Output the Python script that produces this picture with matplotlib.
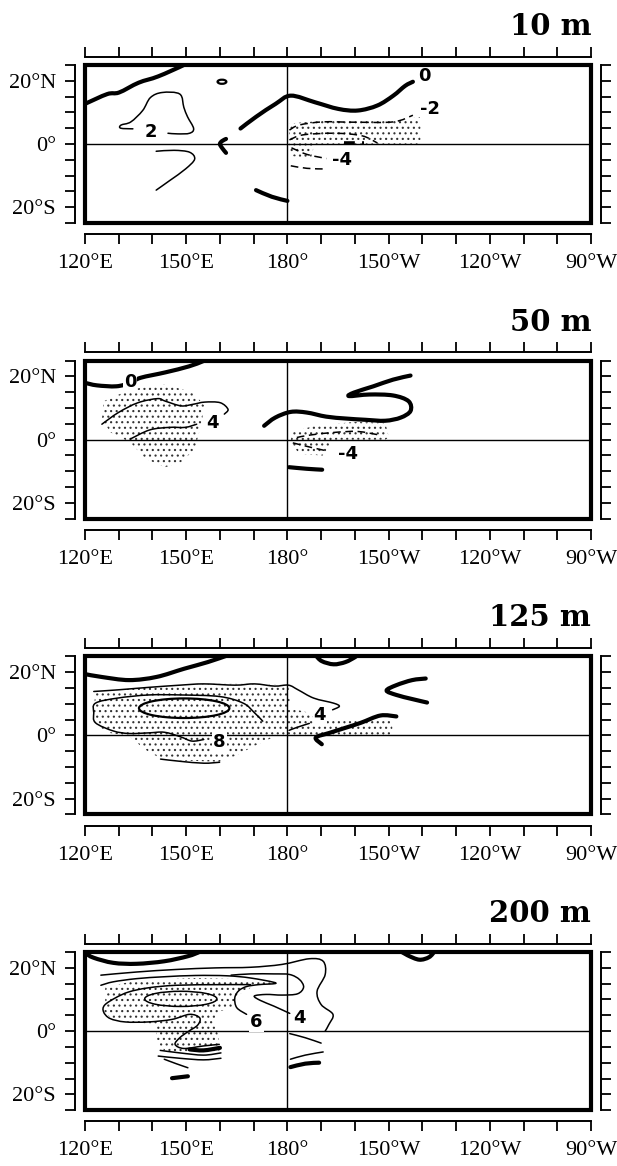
import numpy as np
import matplotlib
matplotlib.use("Agg")
import matplotlib.pyplot as plt
from matplotlib.path import Path
from matplotlib.patches import PathPatch, Ellipse, Rectangle, Polygon
from matplotlib.ticker import MultipleLocator, FixedLocator

plt.rcParams["hatch.linewidth"] = 0.8

# ---------------- axis / text data ----------------
DEPTHS = ["10 m", "50 m", "125 m", "200 m"]
LON_TICKS = [120, 150, 180, 210, 240, 270]
LON_LABELS = ["120°E", "150°E", "180°", "150°W", "120°W", "90°W"]
LAT_TICKS = [-20, 0, 20]
LAT_LABELS = ["20°S", "0°", "20°N"]

# ---------------- 10 m ----------------
P1_ZERO_NW = [(120, 12.7), (126.6, 15.8), (130.1, 16.3), (135.9, 19.4), (141.7, 21.4), (149.3, 25.0), (150.5, 26.0)]
P1_ZERO_MID = [(166.1, 4.9), (170.7, 8.6), (176.5, 12.7), (181.0, 15.3), (188.2, 13.2), (195.1, 11.1),
               (200.9, 10.6), (206.7, 12.2), (211.4, 15.3), (214.9, 18.4), (217.2, 19.7)]
P1_ZERO_S = [(170.7, -14.6), (175.4, -16.7), (180.0, -18.0)]
P1_CHEVRON = [(161.8, 1.6), (160.6, 0.9), (160.0, 0.0), (160.6, -1.2), (161.8, -2.8)]
P1_POS2_LOOP = [(144.6, 3.4), (147.5, 3.2), (151.0, 3.4), (152.2, 4.9), (150.4, 8.6), (149.3, 11.6),
                (148.1, 15.8), (142.9, 16.3), (139.4, 14.7), (137.1, 10.6), (133.6, 7.0), (130.7, 6.0),
                (130.6, 5.0), (134.2, 4.8)]
P1_POS2_S = [(141.1, -2.3), (146.4, -2.0), (151.0, -2.6), (152.5, -4.8), (149.8, -7.9), (145.2, -11.5), (141.1, -14.6)]
P1_NEG2 = [(180.6, 4.4), (183.5, 6.0), (190.5, 7.0), (199.8, 6.9), (211.4, 7.0), (217.2, 9.1)]
P1_NEG_IN = [(180.6, 1.3), (184.7, 2.9), (194.0, 3.4), (202.1, 2.6), (206.7, 0.3)]
P1_NEG_EQ = [(196.9, 0.3), (202.7, 0.3)]
P1_NEG4 = [(181.2, -1.2), (185.8, -3.3), (191.6, -4.6)]
P1_NEG_S = [(181.0, -6.9), (185.8, -7.7), (191.1, -7.9)]
P1_ELLIPSE = (160.6, 19.7, 2.6, 1.3)
P1_STIPPLE_N = [(180.6, 6.5), (190, 7.3), (200, 7.2), (211.4, 7.5), (219.5, 8.5), (219.5, 0), (180.6, 0)]
P1_STIPPLE_S = [(180.6, 0), (188, 0), (187, -4.5), (181, -3.8)]
P1_LABELS = [("2", 139.4, 3.9), ("0", 220.6, 21.4), ("-2", 222.4, 11.1), ("-4", 196.3, -5.1)]

# ---------------- 50 m ----------------
P2_ZERO_W = [(120, 18.0), (123.5, 17.2), (129.3, 16.9), (133.4, 18.0), (136.5, 19.6), (143.8, 21.3),
             (150.8, 23.2), (154.9, 24.8), (157.2, 25.8)]
P2_POS4_N = [(125.0, 4.9), (129.9, 8.6), (135.7, 11.7), (141.5, 13.0), (143.8, 12.2), (148.5, 10.7),
             (152.0, 11.2), (155.5, 11.9), (160.1, 11.7), (162.4, 9.6), (161.3, 8.1)]
P2_POS4_S = [(133.4, 0.2), (139.2, 3.1), (145.0, 3.9), (149.7, 3.9), (153.1, 4.9)]
P2_ZERO_E = [(173.1, 4.4), (176.4, 7.0), (181.0, 8.8), (185.7, 8.6), (191.5, 7.3), (197.3, 6.7), (203.1, 6.3),
             (209.0, 6.0), (213.6, 7.0), (216.5, 9.1), (215.9, 12.2), (211.3, 14.0), (204.3, 14.3),
             (198.3, 13.8), (199.7, 14.9), (205.5, 16.9), (211.3, 19.0), (216.5, 20.3)]
P2_NEG_N = [(182.8, 0.7), (186.9, 1.5), (193.8, 2.3), (200.8, 2.6), (207.2, 1.5)]
P2_NEG_S = [(181.6, -1.0), (186.9, -2.4), (191.5, -3.5)]
P2_ZERO_S = [(180.5, -8.7), (185.7, -9.2), (190.3, -9.5)]
P2_STIPPLE_W = [(125.6, 12.2), (133.4, 15.9), (143.8, 17.5), (152.0, 14.9), (155.5, 10.7), (154.3, 4.4),
                (152.6, -2.9), (148.5, -7.1), (143.8, -8.7), (138.0, -6.1), (133.4, -0.8), (127.6, 2.3), (125.0, 6.5)]
P2_STIPPLE_E = [(181.1, 2.3), (188.0, 4.4), (199.7, 5.6), (209.0, 5.4), (210.1, 0.7), (209.0, 0), (194.0, 0),
                (190.5, -5.0), (183.5, -4.5), (181.1, -1.0)]
P2_LABELS = [("0", 133.4, 18.2), ("4", 157.8, 5.2), ("-4", 197.9, -4.5)]

# ---------------- 125 m ----------------
P3_ZERO_NW = [(120, 19.4), (124.9, 18.5), (133.1, 17.5), (141.2, 18.5), (149.4, 21.1), (156.4, 23.2), (162.2, 25.3)]
P3_ZERO_DIP = [(188.4, 25.3), (190.2, 23.5), (193.7, 22.5), (197.2, 23.2), (200.1, 24.8), (200.8, 25.5)]
P3_ZERO_NE = [(221.0, 18.0), (217.0, 17.5), (212.3, 15.9), (209.4, 14.2), (212.3, 12.8), (217.0, 11.5), (221.4, 10.4)]
P3_ZERO_EQ = [(212.3, 6.0), (207.6, 6.3), (201.8, 4.0), (197.2, 2.4), (192.5, 0.8), (188.4, -0.7), (190.2, -2.8)]
P3_POS4 = [(122.6, 13.9), (129.6, 14.4), (138.9, 15.2), (148.2, 15.9), (155.2, 16.3), (164.5, 15.9), (170.3, 16.3),
           (176.2, 15.6), (180.3, 15.9), (183.2, 14.4), (187.8, 11.8), (193.7, 10.2), (195.4, 9.2), (193.4, 8.1)]
P3_POS4_B = [(186.5, 3.8), (183.0, 2.6), (180.5, 1.6)]
P3_POS8 = [(172.7, 4.5), (170.3, 7.1), (166.9, 10.2), (159.9, 12.3), (148.2, 12.8), (138.9, 12.8), (129.6, 11.8),
           (123.1, 10.2), (122.6, 7.1), (123.1, 4.0), (128.4, 1.4), (133.1, 0.6), (138.9, 0.8), (143.5, 1.0),
           (148.2, -0.4), (151.7, -1.8), (155.2, -1.3)]
P3_ELLIPSE = (149.4, 8.6, 26.8, 6.2)
P3_SOUTH = [(142.4, -7.5), (148.2, -8.2), (155.2, -8.8), (159.9, -8.5)]
P3_STIPPLE = [(123.1, 13.9), (138.9, 15.2), (155.2, 16.3), (170.3, 16.3), (180.3, 15.9), (180.8, 8.6), (186.7, 7.1),
              (191.3, 4.8), (199.5, 5.0), (206.5, 5.5), (211.1, 4.5), (211.1, 0), (176.2, -0.4), (170.3, -3.3),
              (164.5, -6.5), (159.9, -8.3), (149.4, -8.0), (142.4, -7.3), (137.7, -4.4), (133.1, -0.2),
              (127.2, 0.8), (123.1, 3.4), (122.6, 8.1)]
P3_LABELS = [("4", 189.6, 6.6), ("8", 159.9, -2.0)]

# ---------------- 200 m ----------------
P4_ZERO_NW = [(120, 24.7), (122.6, 23.2), (128.4, 21.6), (135.3, 21.3), (143.5, 22.1), (150.5, 23.7), (154.0, 25.1), (155, 26)]
P4_ZERO_NE = [(213.3, 25.5), (215.6, 24.0), (219.1, 22.6), (222.0, 23.4), (223.7, 25.3)]
P4_OUTER = [(124.7, 17.7), (135.3, 18.7), (147.0, 19.5), (158.6, 20.0), (169.1, 20.2), (178.4, 21.1), (186.5, 22.9),
            (190.6, 22.1), (191.2, 17.9), (188.8, 12.6), (190.0, 8.4), (193.5, 5.3), (192.3, 2.1), (191.2, 0.0)]
P4_TONGUE = [(124.7, 14.5), (128.4, 15.6), (135.3, 16.6), (143.5, 17.2), (152.8, 17.6), (162.1, 17.5), (169.1, 16.8),
             (176.6, 15.2), (171.4, 14.7), (167.9, 14.1), (165.6, 12.8), (164.4, 10.5), (165.0, 7.4), (167.9, 5.3)]
P4_POS4 = [(163.3, 17.7), (169.1, 18.1), (176.0, 18.1), (180.7, 17.9), (183.6, 16.3), (184.8, 13.9), (183.0, 11.8),
           (178.4, 11.4), (173.7, 11.6), (170.2, 11.1), (172.0, 9.7), (176.0, 7.9), (180.7, 5.6)]
P4_S_CURVE = [(169.1, 14.7), (159.8, 14.7), (147.0, 14.5), (138.8, 13.7), (133.0, 12.4), (129.0, 10.5), (125.8, 8.2),
              (125.5, 6.1), (127.4, 4.0), (131.9, 2.9), (138.8, 2.9), (145.8, 3.7), (151.0, 5.3), (154.0, 4.2),
              (153.4, 1.9), (150.5, -0.2), (148.1, -2.1), (146.7, -4.2), (149.3, -5.5), (155.1, -4.7), (159.8, -4.2)]
P4_ELLIPSE = (148.4, 10.2, 21.4, 4.8)
P4_S1 = [(151.0, -5.8), (155.1, -6.1), (160.0, -5.3)]
P4_S2 = [(142.3, -6.1), (148.1, -6.9), (155.1, -7.6), (160.3, -6.9)]
P4_S3 = [(141.7, -7.9), (148.1, -8.6), (155.1, -9.1), (160.3, -8.6)]
P4_S4 = [(143.5, -8.9), (147.0, -10.3), (150.5, -11.6)]
P4_S5 = [(145.8, -14.9), (150.5, -14.3)]
P4_E1 = [(180.7, -0.8), (185.3, -2.1), (190.0, -3.8)]
P4_E2 = [(180.9, -8.9), (185.3, -7.6), (190.6, -6.6)]
P4_E3 = [(180.9, -11.4), (185.3, -10.3), (189.4, -10.0)]
P4_STIPPLE = [(126.0, 13.9), (135.3, 16.0), (152.8, 16.8), (170.2, 16.3), (176.6, 15.1), (169.1, 13.7), (165.6, 11.6),
              (164.4, 7.4), (159.8, 6.3), (158.0, 3.2), (159.2, 0.0), (159.8, -3.2), (159.8, -6.8), (152.8, -7.4),
              (143.5, -6.1), (141.2, -3.2), (141.2, 2.1), (133.0, 2.9), (127.8, 4.0), (125.5, 6.3), (126.0, 9.5)]
P4_LABELS = [("6", 170.8, 2.9), ("4", 183.6, 4.0)]

# ---------------- style table ----------------
STYLES = {
    "thick": dict(lw=3.0, ls="-", capstyle="round"),
    "thin": dict(lw=1.1, ls="-", capstyle="round"),
    "mid": dict(lw=1.6, ls="-", capstyle="round"),
    "dash": dict(lw=1.1, ls=(0, (5, 3)), capstyle="butt"),
    "thickdash": dict(lw=2.6, ls=(0, (3, 2)), capstyle="butt"),
}

PANELS = [
    dict(lines=[(P1_ZERO_NW, "thick"), (P1_ZERO_MID, "thick"), (P1_ZERO_S, "thick"), (P1_CHEVRON, "thick"),
                (P1_POS2_LOOP, "thin"), (P1_POS2_S, "thin"), (P1_NEG2, "dash"), (P1_NEG_IN, "dash"),
                (P1_NEG_EQ, "thickdash"), (P1_NEG4, "dash"), (P1_NEG_S, "dash")],
         ellipses=[(P1_ELLIPSE, "mid")], stipple=[P1_STIPPLE_N, P1_STIPPLE_S], labels=P1_LABELS),
    dict(lines=[(P2_ZERO_W, "thick"), (P2_POS4_N, "thin"), (P2_POS4_S, "thin"), (P2_ZERO_E, "thick"),
                (P2_NEG_N, "dash"), (P2_NEG_S, "dash"), (P2_ZERO_S, "thick")],
         ellipses=[], stipple=[P2_STIPPLE_W, P2_STIPPLE_E], labels=P2_LABELS),
    dict(lines=[(P3_ZERO_NW, "thick"), (P3_ZERO_DIP, "thick"), (P3_ZERO_NE, "thick"), (P3_ZERO_EQ, "thick"),
                (P3_POS4, "thin"), (P3_POS4_B, "thin"), (P3_POS8, "thin"), (P3_SOUTH, "thin")],
         ellipses=[(P3_ELLIPSE, "mid")], stipple=[P3_STIPPLE], labels=P3_LABELS),
    dict(lines=[(P4_ZERO_NW, "thick"), (P4_ZERO_NE, "thick"), (P4_OUTER, "thin"), (P4_TONGUE, "thin"),
                (P4_POS4, "thin"), (P4_S_CURVE, "thin"), (P4_S1, "thick"), (P4_S2, "thin"), (P4_S3, "thin"),
                (P4_S4, "thin"), (P4_S5, "thick"), (P4_E1, "thin"), (P4_E2, "thin"), (P4_E3, "thick")],
         ellipses=[(P4_ELLIPSE, "thin")], stipple=[P4_STIPPLE], labels=P4_LABELS),
]


def smooth_path(pts):
    P = np.asarray(pts, float)
    n = len(P)
    if n < 3:
        return Path(P)
    verts = [P[0]]
    codes = [Path.MOVETO]
    for i in range(n - 1):
        p0 = P[i - 1] if i > 0 else P[i]
        p1, p2 = P[i], P[i + 1]
        p3 = P[i + 2] if i + 2 < n else P[i + 1]
        c1 = p1 + (p2 - p0) / 6.0
        c2 = p2 - (p3 - p1) / 6.0
        verts += [c1, c2, p2]
        codes += [Path.CURVE4] * 3
    return Path(verts, codes)


def setup_axes(ax, title):
    ax.set_xlim(120, 270)
    ax.set_ylim(-25, 25)
    for s in ["left", "right", "top", "bottom"]:
        ax.spines[s].set_linewidth(1.4)
    ax.spines["left"].set_position(("outward", 7.5))
    ax.spines["right"].set_position(("outward", 7.5))
    ax.spines["top"].set_position(("outward", 6))
    ax.spines["bottom"].set_position(("outward", 8))
    ax.xaxis.set_major_locator(FixedLocator(LON_TICKS))
    ax.xaxis.set_minor_locator(MultipleLocator(10))
    ax.set_xticklabels(LON_LABELS)
    ax.yaxis.set_major_locator(FixedLocator(LAT_TICKS))
    ax.yaxis.set_minor_locator(MultipleLocator(5))
    ax.set_yticklabels(LAT_LABELS)
    ax.tick_params(which="both", direction="out", length=7.5, width=1.3,
                   top=True, right=True, bottom=True, left=True,
                   labeltop=False, labelright=False)
    ax.tick_params(axis="x", which="major", pad=7)
    ax.tick_params(axis="y", which="major", pad=6)
    for lab in ax.get_xticklabels() + ax.get_yticklabels():
        lab.set_fontfamily("Liberation Serif")
        lab.set_fontsize(16)
    ax.add_patch(Rectangle((0, 0), 1, 1, transform=ax.transAxes, fill=False,
                           lw=3.0, ec="black", clip_on=False, zorder=20))
    ax.axhline(0, color="black", lw=1.0, zorder=3)
    ax.axvline(180, color="black", lw=1.0, zorder=3)
    ax.text(1.0, 1.19, title, transform=ax.transAxes, ha="right", va="baseline",
            fontsize=21, fontweight="bold", family="DejaVu Serif")


fig = plt.figure(figsize=(6.17, 11.66), dpi=100)
W, H = 617.0, 1166.0
left_px, right_px = 85.0, 591.0
panel_h = 158.0
for k, (title, panel) in enumerate(zip(DEPTHS, PANELS)):
    top_px = 65.0 + 295.7 * k
    ax = fig.add_axes([left_px / W, 1 - (top_px + panel_h) / H, (right_px - left_px) / W, panel_h / H])
    setup_axes(ax, title)
    for poly in panel["stipple"]:
        ax.add_patch(Polygon(poly, closed=True, facecolor="none", edgecolor="#333333",
                             hatch="...", lw=0, zorder=1))
    for pts, st in panel["lines"]:
        s = STYLES[st]
        ax.add_patch(PathPatch(smooth_path(pts), fill=False, lw=s["lw"], ls=s["ls"],
                               capstyle=s["capstyle"], joinstyle="round", ec="black", zorder=5))
    for (cx, cy, w, h), st in panel["ellipses"]:
        s = STYLES[st]
        ax.add_patch(Ellipse((cx, cy), w, h, fill=False, lw=s["lw"], ec="black", zorder=5))
    for txt, x, y in panel["labels"]:
        ax.text(x, y, txt, ha="center", va="center", fontsize=13, fontweight="bold",
                family="DejaVu Sans", zorder=6,
                bbox=dict(facecolor="white", edgecolor="none", pad=0.6))

fig.savefig("out.png", dpi=100)
